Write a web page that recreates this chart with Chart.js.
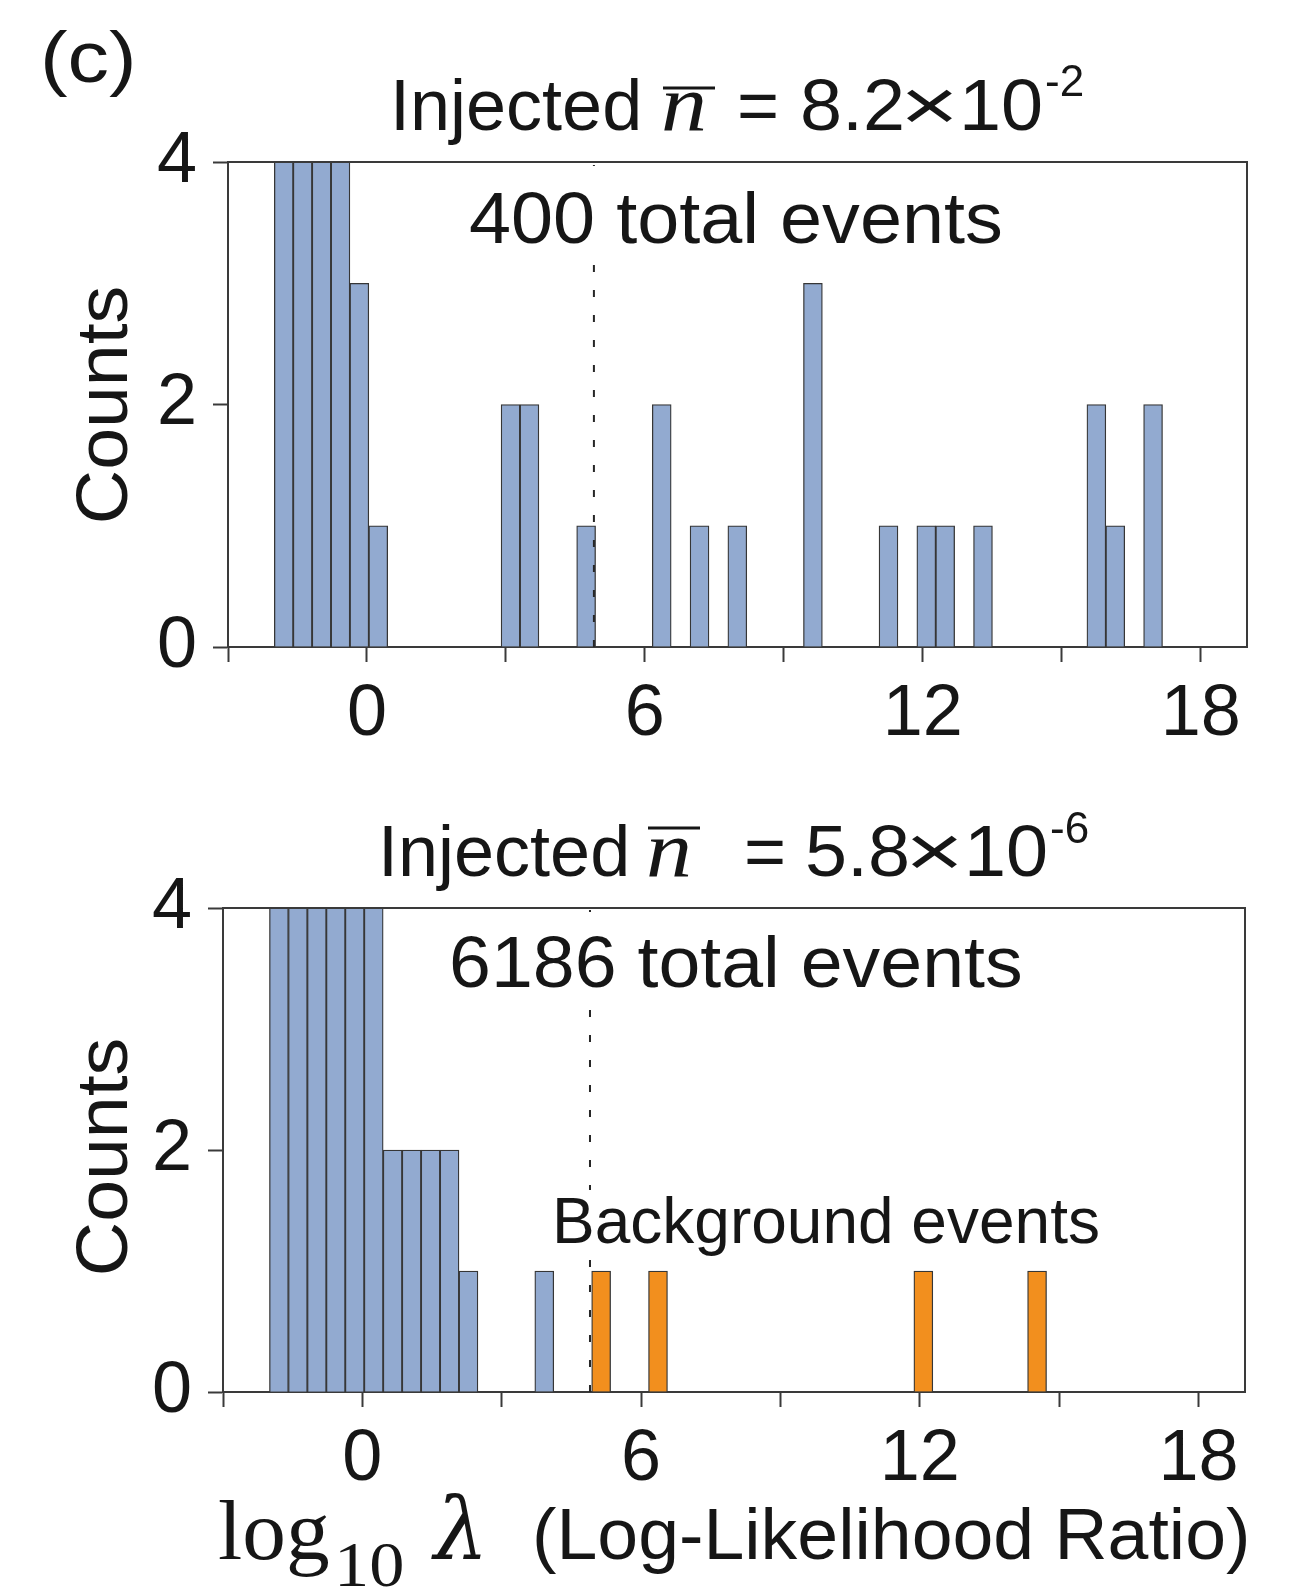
<!DOCTYPE html>
<html>
<head>
<meta charset="utf-8">
<script src="https://cdn.jsdelivr.net/npm/chart.js@4.4.1/dist/chart.umd.min.js"></script>
<style>
  html, body { margin: 0; padding: 0; background: #ffffff; }
  #wrap { position: relative; width: 1292px; height: 1588px; overflow: hidden; background: #fff; }
  #topCanvas { position: absolute; left: 0; top: 0; }
  #botCanvas { position: absolute; left: 0; top: 780px; }
</style>
</head>
<body>
<div id="wrap">
  <canvas id="topCanvas" width="1292" height="780"></canvas>
  <canvas id="botCanvas" width="1292" height="808"></canvas>
</div>
<script>
// ---------------- data ----------------
const xTicks       = [-3, 0, 3, 6, 9, 12, 15, 18];
const xTickLabels  = ['', '0', '', '6', '', '12', '', '18'];
const yTicks       = [0, 2, 4];
const yTickLabels  = ['0', '2', '4'];

// top panel: injected n = 8.2e-2, 400 total events (bin centres, log10 lambda)
const topCenters = [-1.796, -1.388, -0.980, -0.572, -0.164, 0.244, 3.100, 3.508, 4.732,
                    6.364, 7.180, 7.996, 9.628, 11.260, 12.076, 12.484, 13.300,
                    15.748, 16.156, 16.972];
const topCounts  = [35, 120, 150, 70, 3, 1, 2, 2, 1,
                    2, 1, 1, 3, 1, 1, 1, 1,
                    2, 1, 2];

// bottom panel: injected n = 5.8e-6, 6186 total events
const botCenters = [-1.796, -1.388, -0.980, -0.572, -0.164, 0.244, 0.652, 1.060,
                    1.468, 1.876, 2.284, 3.916];
const botCounts  = [420, 1650, 2300, 1300, 400, 102, 2, 2,
                    2, 2, 1, 1];

// background events (orange) in bottom panel
const bgCenters = [5.140, 6.364, 12.076, 14.524];
const bgCounts  = [1, 1, 1, 1];

const threshold = 4.9;   // dashed vertical line

// ---------------- style ----------------
const SANS  = '"Liberation Sans", Arial, Helvetica, sans-serif';
const SERIF = '"Liberation Serif", "Times New Roman", serif';
const DSERIF = '"DejaVu Serif", "Liberation Serif", serif';
const BLUE = 'rgb(146,170,208)';
const ORANGE = 'rgb(242,143,30)';
const EDGE = '#363636';
const AXIS = '#3a3a3a';
const INK = '#161616';
const FS = 72;

function barDataset(centers, counts, color) {
  return {
    data: centers.map((c, i) => ({ x: c, y: counts[i] })),
    backgroundColor: color,
    borderColor: EDGE,
    borderWidth: 1.3,
    borderSkipped: 'start',
    barPercentage: 1,
    categoryPercentage: 1,
    grouped: false
  };
}

function txt(ctx, s, x, y, font, sx) {
  sx = sx || 1;
  ctx.save();
  ctx.font = font;
  ctx.fillStyle = INK;
  ctx.textAlign = 'left';
  ctx.textBaseline = 'alphabetic';
  ctx.translate(x, y);
  ctx.scale(sx, 1);
  ctx.fillText(s, 0, 0);
  const w = ctx.measureText(s).width * sx;
  ctx.restore();
  return w;
}

function boxedText(ctx, s, x, y, font, sx, boxTop, padBottom) {
  ctx.save();
  ctx.font = font;
  const m = ctx.measureText(s);
  const top = (boxTop !== null) ? boxTop : (y - m.actualBoundingBoxAscent - 6);
  ctx.fillStyle = '#ffffff';
  ctx.fillRect(x - 6, top, m.width * sx + 12, (y + m.actualBoundingBoxDescent + padBottom) - top);
  ctx.restore();
  txt(ctx, s, x, y, font, sx);
}

function dashed(ctx, xp, y0, y1) {
  ctx.save();
  ctx.strokeStyle = '#262626';
  ctx.lineWidth = 2;
  ctx.setLineDash([7, 18]);
  ctx.beginPath();
  ctx.moveTo(xp, y1);
  ctx.lineTo(xp, y0);
  ctx.stroke();
  ctx.restore();
}

function frame(ctx, a) {
  ctx.save();
  ctx.strokeStyle = AXIS;
  ctx.lineWidth = 2;
  ctx.beginPath();
  ctx.moveTo(a.left, a.top);
  ctx.lineTo(a.right, a.top);
  ctx.lineTo(a.right, a.bottom);
  ctx.stroke();
  ctx.restore();
}

function title(ctx, p) {
  txt(ctx, 'Injected', p.x0, p.base, `${FS}px ${SANS}`);
  txt(ctx, 'n', p.nX, p.base, `italic 80px ${SERIF}`, 1.15);
  ctx.save();
  ctx.strokeStyle = INK;
  ctx.lineWidth = 3;
  ctx.beginPath();
  ctx.moveTo(p.nX + 2, p.barY);
  ctx.lineTo(p.nX + 54, p.barY);
  ctx.stroke();
  ctx.restore();
  txt(ctx, '=', p.eqX, p.base, `${FS}px ${SANS}`);
  txt(ctx, p.mant, p.mantX, p.base, `${FS}px ${SANS}`, 1.05);
  txt(ctx, '×', p.timesX, p.base, `${FS}px ${SANS}`, 1.4);
  txt(ctx, '10', p.tenX, p.base, `${FS}px ${SANS}`, 1.05);
  txt(ctx, p.sup, p.supX, p.supBase, `44px ${SANS}`);
}

function countsLabel(ctx, x, y) {
  ctx.save();
  ctx.translate(x, y);
  ctx.rotate(-Math.PI / 2);
  ctx.scale(1.045, 1);
  ctx.font = `${FS}px ${SANS}`;
  ctx.fillStyle = INK;
  ctx.textAlign = 'center';
  ctx.textBaseline = 'alphabetic';
  ctx.fillText('Counts', 0, 0);
  ctx.restore();
}

function makeChart(id, W, H, area, datasets, afterDs, afterAll) {
  const tickFont = { family: SANS, size: FS };
  return new Chart(document.getElementById(id), {
    type: 'bar',
    data: { datasets },
    options: {
      responsive: false,
      animation: false,
      devicePixelRatio: 1,
      layout: { padding: { left: 0, top: area.top, right: W - area.right, bottom: 0 } },
      plugins: { legend: { display: false }, tooltip: { enabled: false }, title: { display: false } },
      scales: {
        x: {
          type: 'linear', min: -3, max: 19, offset: false, z: 1,
          afterBuildTicks: s => { s.ticks = xTicks.map(v => ({ value: v })); },
          afterFit: s => { s.height = H - area.bottom; },
          ticks: {
            autoSkip: false, maxRotation: 0, minRotation: 0, padding: 10,
            color: INK, font: tickFont,
            callback: v => xTickLabels[xTicks.indexOf(v)]
          },
          grid: { offset: false, drawOnChartArea: false, drawTicks: true, tickLength: 15, tickWidth: 2, tickColor: AXIS },
          border: { display: true, color: AXIS, width: 2 }
        },
        y: {
          type: 'linear', min: 0, max: 4, z: 1,
          afterBuildTicks: s => { s.ticks = yTicks.map(v => ({ value: v })); },
          afterFit: s => { s.width = area.left; },
          ticks: {
            padding: 16, color: INK, font: tickFont,
            callback: v => yTickLabels[yTicks.indexOf(v)]
          },
          grid: { drawOnChartArea: false, drawTicks: true, tickLength: 15, tickWidth: 2, tickColor: AXIS },
          border: { display: true, color: AXIS, width: 2 }
        }
      }
    },
    plugins: [{
      id: 'deco',
      afterDatasetsDraw: c => afterDs(c),
      afterDraw: c => afterAll(c)
    }]
  });
}

// ---------------- top panel ----------------
makeChart('topCanvas', 1292, 780, { left: 228, top: 162, right: 1247, bottom: 647 },
  [barDataset(topCenters, topCounts, BLUE)],
  c => {
    const { ctx, chartArea: a } = c;
    dashed(ctx, c.scales.x.getPixelForValue(threshold), a.top, a.bottom);
    boxedText(ctx, '400 total events', 469, 243, `${FS}px ${SANS}`, 1.05, a.top + 4, 14);
    frame(ctx, a);
  },
  c => {
    const ctx = c.ctx;
    txt(ctx, '(c)', 40, 82, `${FS}px ${SANS}`, 1.15);
    title(ctx, { x0: 390, base: 130, nX: 661, barY: 88, eqX: 737,
                 mant: '8.2', mantX: 800, timesX: 900, tenX: 959,
                 supX: 1045, supBase: 96, sup: '-2' });
    countsLabel(ctx, 127, 405);
  });

// ---------------- bottom panel ----------------
makeChart('botCanvas', 1292, 808, { left: 223, top: 128, right: 1245, bottom: 612 },
  [barDataset(bgCenters, bgCounts, ORANGE), barDataset(botCenters, botCounts, BLUE)],
  c => {
    const { ctx, chartArea: a } = c;
    dashed(ctx, c.scales.x.getPixelForValue(threshold), a.top, a.bottom);
    boxedText(ctx, '6186 total events', 449, 207, `${FS}px ${SANS}`, 1.046, a.top + 4, 14);
    boxedText(ctx, 'Background events', 552, 463, `64px ${SANS}`, 1.0, null, 4);
    frame(ctx, a);
  },
  c => {
    const ctx = c.ctx;
    title(ctx, { x0: 378, base: 96, nX: 646, barY: 48, eqX: 744,
                 mant: '5.8', mantX: 805, timesX: 905, tenX: 964,
                 supX: 1050, supBase: 63, sup: '-6' });
    countsLabel(ctx, 127, 377);
    // x-axis title
    txt(ctx, 'log', 218, 779, `84px ${SERIF}`, 1.04);
    txt(ctx, '10', 334, 806, `64px ${SERIF}`, 1.1);
    txt(ctx, 'λ', 434, 779, `italic 86px ${DSERIF}`);
    txt(ctx, '(Log-Likelihood Ratio)', 532, 779, `${FS}px ${SANS}`, 1.02);
  });
</script>
</body>
</html>
